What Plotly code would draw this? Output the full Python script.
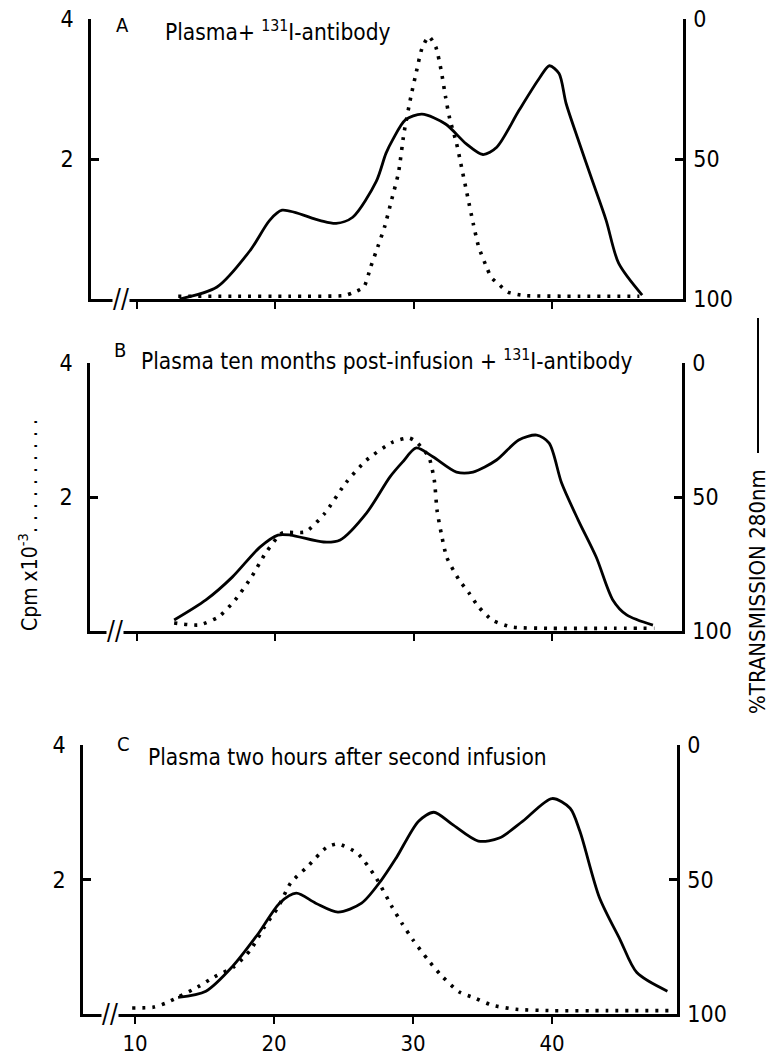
import plotly.graph_objects as go

W, H = 773, 1057
FONT = "DejaVu Sans Condensed, Liberation Sans Narrow, Liberation Sans, sans-serif"

# ---------------- data (fraction number vs. values) ----------------
# Panel A
a_solid_x = [13.1, 15.8, 18.2, 19.6, 20.5, 23.2, 24.4, 25.6, 27.3, 28.0, 28.5, 29.4, 30.6, 32.3, 33.8, 35.0, 36.0, 37.6, 39.1, 39.8, 40.5, 41.0, 41.9, 42.9, 43.9, 44.8, 46.5]
a_solid_t = [100, 95.7, 82.6, 71.9, 68.3, 71.9, 73.0, 70.8, 58.0, 48.0, 43.0, 36.0, 34.0, 37.5, 44.6, 48.4, 45.8, 32.7, 21.0, 16.7, 19.5, 30.0, 43.4, 57.7, 71.9, 87.2, 98.6]
a_dot_x = [13.0, 17.0, 21.0, 25.0, 25.6, 26.4, 26.9, 27.4, 27.9, 28.4, 28.9, 29.3, 29.8, 30.2, 30.6, 31.1, 31.6, 32.0, 32.3, 32.6, 33.1, 33.4, 33.9, 34.3, 34.7, 35.3, 35.6, 36.2, 36.8, 38.0, 42.0, 46.3]
a_dot_c = [0.04, 0.04, 0.04, 0.05, 0.09, 0.17, 0.46, 0.74, 1.03, 1.41, 1.80, 2.37, 2.89, 3.25, 3.58, 3.75, 3.60, 3.25, 2.89, 2.58, 2.22, 1.94, 1.46, 1.08, 0.74, 0.44, 0.31, 0.20, 0.10, 0.05, 0.04, 0.04]

# Panel B
b_solid_x = [12.7, 15.0, 16.9, 18.9, 20.2, 21.1, 23.5, 24.7, 26.6, 28.3, 29.2, 30.2, 31.4, 33.1, 34.3, 36.0, 37.6, 38.9, 39.8, 40.7, 41.9, 43.2, 44.4, 45.4, 47.3]
b_solid_t = [95.9, 88.4, 79.9, 68.7, 64.2, 64.2, 66.8, 66.0, 56.0, 42.5, 37.0, 31.7, 35.0, 40.7, 40.7, 36.2, 28.7, 26.9, 29.9, 44.8, 58.6, 72.4, 88.4, 94.0, 97.8]
b_dot_x = [12.7, 14.5, 15.9, 17.1, 18.3, 19.3, 20.5, 22.2, 23.6, 25.1, 26.6, 28.5, 29.7, 30.2, 31.1, 31.5, 31.7, 32.0, 32.4, 33.3, 34.0, 34.7, 35.7, 37.1, 40.0, 44.0, 47.4]
b_dot_c = [0.12, 0.09, 0.21, 0.46, 0.81, 1.16, 1.46, 1.48, 1.76, 2.21, 2.55, 2.82, 2.88, 2.82, 2.60, 2.25, 1.80, 1.46, 1.10, 0.76, 0.57, 0.36, 0.16, 0.06, 0.04, 0.04, 0.04]

# Panel C
c_solid_x = [13.1, 15.1, 17.0, 18.9, 20.4, 21.6, 23.0, 24.6, 26.3, 27.7, 28.8, 30.4, 31.5, 32.8, 34.7, 36.2, 37.9, 40.0, 41.3, 42.0, 43.4, 44.9, 46.1, 48.3]
c_solid_t = [93.8, 91.5, 82.4, 69.9, 58.8, 55.1, 58.8, 62.1, 58.8, 50.4, 41.9, 28.3, 25.0, 29.4, 35.7, 34.6, 28.3, 19.9, 23.5, 32.0, 56.6, 72.4, 84.6, 91.5]
c_dot_x = [9.8, 11.3, 12.2, 13.1, 14.5, 15.7, 17.1, 18.3, 19.3, 20.3, 21.2, 22.4, 23.8, 24.6, 26.0, 27.3, 28.5, 29.2, 30.0, 31.1, 32.0, 33.3, 34.4, 35.7, 37.4, 40.0, 44.0, 48.4]
c_dot_c = [0.09, 0.10, 0.16, 0.25, 0.40, 0.55, 0.70, 0.95, 1.29, 1.59, 1.95, 2.19, 2.48, 2.53, 2.39, 2.04, 1.59, 1.35, 1.10, 0.80, 0.58, 0.33, 0.24, 0.13, 0.07, 0.05, 0.05, 0.05]

x_ticks = [10, 20, 30, 40]
left_ticks = [2, 4]
right_ticks = [0, 50, 100]

panel_letters = ["A", "B", "C"]
panel_titles = [
    "Plasma+ <sup>131</sup>I-antibody",
    "Plasma ten months post-infusion + <sup>131</sup>I-antibody",
    "Plasma two hours after second infusion",
]
NB = "\u00a0"
left_label = "Cpm x10<sup>-3</sup>" + ("." + NB) * 10
right_label = "%TRANSMISSION 280nm"

# ---------------- layout geometry (pixels) ----------------
# (left axis px, right axis px, bottom px, top px, x range)
geo = [
    (91, 683, 299, 19, [6.70, 49.45]),
    (90, 682, 631, 363, [6.62, 49.40]),
    (83, 677, 1014, 745, [6.26, 48.99]),
]
letter_pos = [(122, 25), (120, 350), (123, 744)]
title_pos = [(163, 47), (139, 376), (146, 772)]   # bottom of text box
break_x = [121, 115, 110]

solids = [(a_solid_x, a_solid_t), (b_solid_x, b_solid_t), (c_solid_x, c_solid_t)]
dots = [(a_dot_x, a_dot_c), (b_dot_x, b_dot_c), (c_dot_x, c_dot_c)]

def px(x):
    return x / W

def py(y):
    return 1 - y / H

fig = go.Figure()
layout = dict(
    width=W, height=H, margin=dict(l=0, r=0, t=0, b=0, pad=0, autoexpand=False),
    paper_bgcolor="white", plot_bgcolor="rgba(0,0,0,0)",
    showlegend=False, font=dict(family=FONT, size=22, color="black"),
    annotations=[], shapes=[],
)

for i in range(3):
    lx, rx, by, ty, xr = geo[i]
    xn = "x" if i == 0 else f"x{i+1}"
    yl = "y" if i == 0 else f"y{2*i+1}"
    yr = f"y{2*i+2}"
    xkey = "xaxis" if i == 0 else f"xaxis{i+1}"
    ylkey = "yaxis" if i == 0 else f"yaxis{2*i+1}"
    yrkey = f"yaxis{2*i+2}"
    dom_x = [px(lx), px(rx)]
    dom_y = [py(by), py(ty)]
    layout[xkey] = dict(
        domain=dom_x, range=xr, anchor=yl, showline=True, linecolor="black",
        linewidth=2.5, ticks="outside", ticklen=7, tickwidth=2, tickcolor="black",
        tickvals=x_ticks, showticklabels=(i == 2), showgrid=False, zeroline=False,
        tickfont=dict(size=22), ticklabelstandoff=1, automargin=False,
    )
    layout[ylkey] = dict(
        domain=dom_y, range=[0, 4], anchor=xn, side="left", showline=True,
        linecolor="black", linewidth=2.5, ticks="inside", ticklen=8, tickwidth=2.5,
        tickcolor="black", tickvals=left_ticks, showgrid=False, zeroline=False,
        tickfont=dict(size=23), ticklabelstandoff=10, automargin=False,
    )
    layout[yrkey] = dict(
        domain=dom_y, range=[100, 0], anchor=xn, side="right", overlaying=yl,
        showline=True, linecolor="black", linewidth=2.5, ticks="inside", ticklen=8,
        tickwidth=2.5, tickcolor="black", tickvals=right_ticks, showgrid=False,
        zeroline=False, tickfont=dict(size=23), ticklabelstandoff=3, automargin=False,
    )
    sx, st = solids[i]
    fig.add_trace(go.Scatter(
        x=sx, y=st, mode="lines", xaxis=xn, yaxis=yr,
        line=dict(color="black", width=2.8, shape="spline", smoothing=0.8),
        hoverinfo="skip",
    ))
    dx, dc = dots[i]
    fig.add_trace(go.Scatter(
        x=dx, y=dc, mode="lines", xaxis=xn, yaxis=yl,
        line=dict(color="black", width=3.6, shape="spline", smoothing=0.6, dash="3px,7px"),
        hoverinfo="skip",
    ))
    # axis break mark
    layout["annotations"].append(dict(
        text="//", x=px(break_x[i]), y=py(by), xref="paper", yref="paper",
        showarrow=False, xanchor="center", yanchor="middle",
        font=dict(size=26, family=FONT), bgcolor="white", borderpad=0,
    ))
    lxp, lyp = letter_pos[i]
    layout["annotations"].append(dict(
        text=panel_letters[i], x=px(lxp), y=py(lyp), xref="paper", yref="paper",
        showarrow=False, xanchor="center", yanchor="middle", font=dict(size=20),
    ))
    txp, typ = title_pos[i]
    layout["annotations"].append(dict(
        text=panel_titles[i], x=px(txp), y=py(typ), xref="paper", yref="paper",
        showarrow=False, xanchor="left", yanchor="bottom", font=dict(size=22.5),
    ))

layout["annotations"].append(dict(
    text=left_label, x=px(28), y=py(522), xref="paper", yref="paper",
    showarrow=False, textangle=-90, xanchor="center", yanchor="middle",
    font=dict(size=21),
))
layout["annotations"].append(dict(
    text=right_label, x=px(757), y=py(592), xref="paper", yref="paper",
    showarrow=False, textangle=-90, xanchor="center", yanchor="middle",
    font=dict(size=22),
))
layout["shapes"].append(dict(
    type="line", xref="paper", yref="paper", x0=px(758), x1=px(758),
    y0=py(318), y1=py(453), line=dict(color="black", width=2),
))

fig.update_layout(**layout)
fig.write_html("out.html")
